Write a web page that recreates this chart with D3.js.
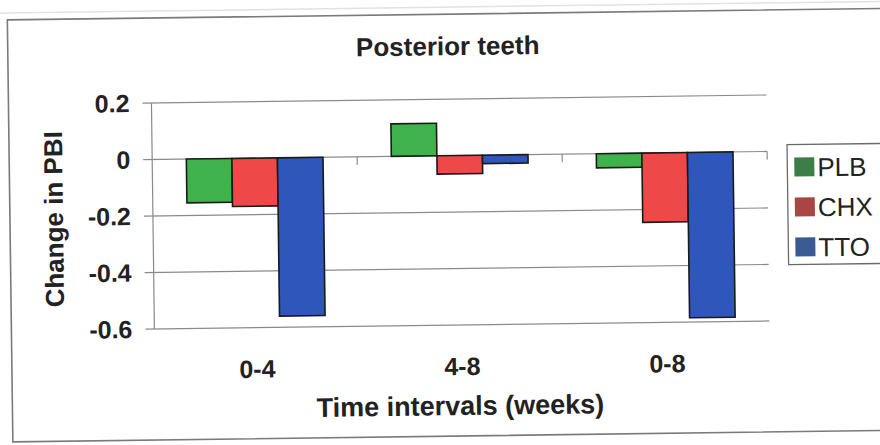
<!DOCTYPE html>
<html>
<head>
<meta charset="utf-8">
<script src="https://cdn.jsdelivr.net/npm/d3@7"></script>
<style>
  body { margin: 0; background: #fff; }
  text { font-family: "Liberation Sans", Arial, sans-serif; fill: #222; }
  .grid line { stroke: #8a8a8a; stroke-width: 1.2; }
</style>
</head>
<body>
<svg id="chart" width="880" height="445"></svg>
<script>
/* chart data */
var categories = ["0-4", "4-8", "0-8"];
var seriesNames = ["PLB", "CHX", "TTO"];
var plb = [-0.155, 0.115, -0.05];
var chx = [-0.17, -0.065, -0.245];
var tto = [-0.56, -0.03, -0.585];
var yTicks = [0.2, 0, -0.2, -0.4, -0.6];
var yTickLabels = ["0.2", "0", "-0.2", "-0.4", "-0.6"];

var barColors = {PLB: "#3fb34b", CHX: "#ee4848", TTO: "#2f57bb"};
var keyColors = {PLB: "#3d7e48", CHX: "#a84646", TTO: "#3b5a94"};

var values = {PLB: plb, CHX: chx, TTO: tto};
var rows = categories.map(function(c, i) {
  return {cat: c, bars: seriesNames.map(function(s) { return {name: s, value: values[s][i]}; })};
});

var svg = d3.select("#chart");

/* the scanned page is tilted a little, so rotate everything */
var page = svg.append("g")
    .attr("transform", "rotate(-0.75,460,220)");

/* faint edge of the paper above the chart */
page.append("line")
    .attr("x1", 0).attr("x2", 900).attr("y1", 7).attr("y2", 7)
    .attr("stroke", "#e2e2e2").attr("stroke-width", 1.5);

/* outer chart border (right side runs off the page) */
page.append("rect")
    .attr("x", 10).attr("y", 14)
    .attr("width", 890).attr("height", 422)
    .attr("fill", "none")
    .attr("stroke", "#7a7a7a")
    .attr("stroke-width", 1.6);

var plot = {left: 153, right: 768, top: 99, bottom: 325};

var x0 = d3.scaleBand()
    .domain(categories)
    .range([plot.left, plot.right])
    .paddingInner(1 / 3)
    .paddingOuter(1 / 6);

var x1 = d3.scaleBand()
    .domain(seriesNames)
    .range([0, x0.bandwidth()]);

var y = d3.scaleLinear()
    .domain([-0.6, 0.2])
    .range([plot.bottom, plot.top]);

/* gridlines + left axis */
var grid = page.append("g").attr("class", "grid");
grid.selectAll("line")
  .data(yTicks)
  .enter().append("line")
    .attr("x1", plot.left - 9)
    .attr("x2", plot.right)
    .attr("y1", function(d) { return y(d); })
    .attr("y2", function(d) { return y(d); });

page.append("line")
    .attr("x1", plot.left).attr("x2", plot.left)
    .attr("y1", plot.top).attr("y2", plot.bottom)
    .attr("stroke", "#8a8a8a").attr("stroke-width", 1.2);

page.selectAll(".ytick")
  .data(yTicks)
  .enter().append("text")
    .attr("class", "ytick")
    .attr("x", 131)
    .attr("y", function(d) { return y(d); })
    .attr("dy", "0.35em")
    .attr("text-anchor", "end")
    .style("font-size", "25px")
    .style("font-weight", "bold")
    .text(function(d, i) { return yTickLabels[i]; });

/* small ticks under the zero line at category edges */
var edges = categories.map(function(c) { return x0(c) + x0.bandwidth() + x0.step() * x0.paddingInner() / 2; });
page.selectAll(".xtick")
  .data(edges)
  .enter().append("line")
    .attr("class", "xtick")
    .attr("x1", function(d) { return d; })
    .attr("x2", function(d) { return d; })
    .attr("y1", y(0))
    .attr("y2", y(0) + 8)
    .attr("stroke", "#8a8a8a").attr("stroke-width", 1.2);

/* bars */
var groups = page.selectAll(".group")
  .data(rows)
  .enter().append("g")
    .attr("class", "group")
    .attr("transform", function(d) { return "translate(" + x0(d.cat) + ",0)"; });

groups.selectAll("rect")
  .data(function(d) { return d.bars; })
  .enter().append("rect")
    .attr("x", function(d) { return x1(d.name); })
    .attr("width", x1.bandwidth())
    .attr("y", function(d) { return y(Math.max(0, d.value)); })
    .attr("height", function(d) { return Math.abs(y(d.value) - y(0)); })
    .attr("fill", function(d) { return barColors[d.name]; })
    .attr("stroke", "#1a1a1a")
    .attr("stroke-width", 1.6);

/* category labels */
page.selectAll(".xlabel")
  .data(categories)
  .enter().append("text")
    .attr("class", "xlabel")
    .attr("x", function(d) { return x0(d) + x0.bandwidth() / 2; })
    .attr("y", 375)
    .attr("text-anchor", "middle")
    .style("font-size", "25px")
    .style("font-weight", "bold")
    .text(function(d) { return d; });

/* titles */
page.append("text")
    .attr("x", 450).attr("y", 55)
    .attr("text-anchor", "middle")
    .style("font-size", "26px")
    .style("font-weight", "bold")
    .text("Posterior teeth");

page.append("text")
    .attr("x", 458).attr("y", 415)
    .attr("text-anchor", "middle")
    .style("font-size", "27px")
    .style("font-weight", "bold")
    .text("Time intervals (weeks)");

page.append("text")
    .attr("transform", "translate(63,214) rotate(-90)")
    .attr("text-anchor", "middle")
    .style("font-size", "26px")
    .style("font-weight", "bold")
    .text("Change in PBI");

/* legend */
var legend = page.append("g");
legend.append("rect")
    .attr("x", 788).attr("y", 149)
    .attr("width", 120).attr("height", 120)
    .attr("fill", "#fff")
    .attr("stroke", "#6a6a6a").attr("stroke-width", 1.3);

var key = legend.selectAll(".key")
  .data(seriesNames)
  .enter().append("g")
    .attr("class", "key")
    .attr("transform", function(d, i) { return "translate(795," + (162 + i * 40) + ")"; });

key.append("rect")
    .attr("width", 20).attr("height", 19)
    .attr("fill", function(d) { return keyColors[d]; });

key.append("text")
    .attr("x", 23).attr("y", 19)
    .style("font-size", "26px")
    .text(function(d) { return d; });
</script>
</body>
</html>
